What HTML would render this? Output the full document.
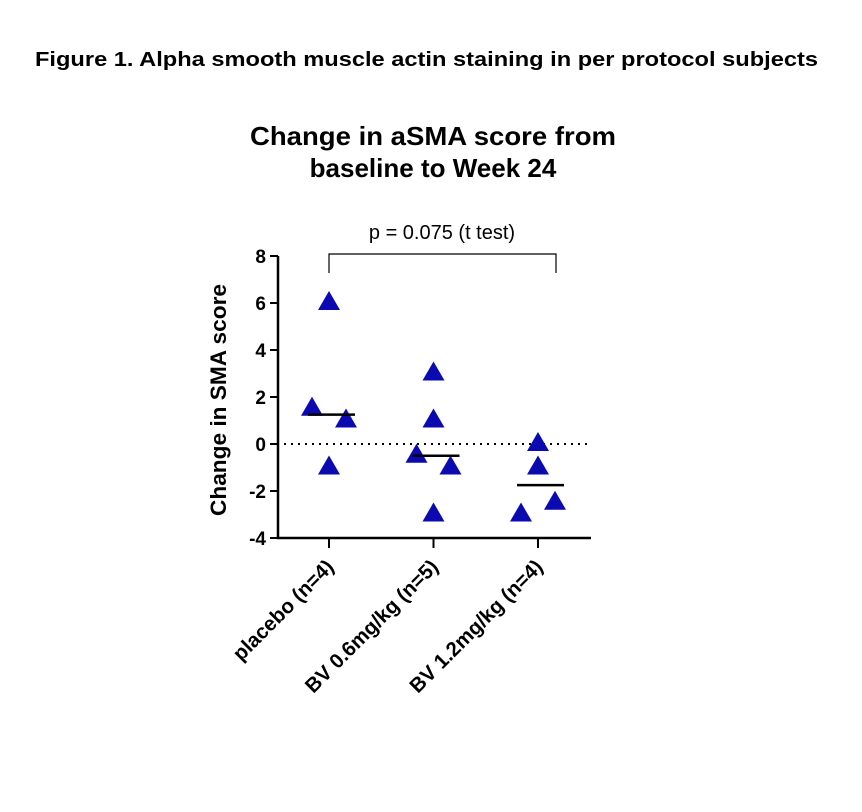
<!DOCTYPE html>
<html><head><meta charset="utf-8"><style>
body{margin:0;background:#fff;width:862px;height:807px;overflow:hidden;font-family:"Liberation Sans",sans-serif}
</style></head><body>
<svg width="862" height="807" xmlns="http://www.w3.org/2000/svg">
<text x="35" y="66" font-size="20" font-weight="bold" textLength="783" lengthAdjust="spacingAndGlyphs">Figure 1. Alpha smooth muscle actin staining in per protocol subjects</text>
<text x="433" y="145" text-anchor="middle" font-size="26" font-weight="bold" textLength="366" lengthAdjust="spacingAndGlyphs">Change in aSMA score from</text>
<text x="433" y="177" text-anchor="middle" font-size="26" font-weight="bold">baseline to Week 24</text>
<text x="226" y="400" text-anchor="middle" font-size="22" font-weight="bold" textLength="232" lengthAdjust="spacingAndGlyphs" transform="rotate(-90 226 400)">Change in SMA score</text>
<g id="plot"></g>
</svg>
<script>
const categories=["placebo (n=4)","BV 0.6mg/kg (n=5)","BV 1.2mg/kg (n=4)"];
const valuesPlacebo=[6,1.5,1,-1];
const offsetsPlacebo=[0,-1,1,0];
const valuesBV06=[3,1,-0.5,-1,-3];
const offsetsBV06=[0,0,-1,1,0];
const valuesBV12=[0,-1,-3,-2.5];
const offsetsBV12=[0,0,-1,1];
const medians=[1.25,-0.5,-1.75];
const yTicks=[8,6,4,2,0,-2,-4];
const pLabel="p = 0.075 (t test)";
const NS="http://www.w3.org/2000/svg";
const g=document.getElementById('plot');
const y0=444,ppu=23.5;
function yS(v){return y0-v*ppu;}
function xS(i){return 329+i*104.5;}
function mk(t,a){const e=document.createElementNS(NS,t);for(const k in a)e.setAttribute(k,a[k]);g.appendChild(e);return e;}
let e;
e=mk('line',{x1:278,y1:yS(8),x2:278,y2:yS(-4)+1,stroke:'#000','stroke-width':2.5});


e=mk('line',{x1:277,y1:yS(-4),x2:591,y2:yS(-4),stroke:'#000','stroke-width':2.5});


yTicks.forEach(v=>{
 e=mk('line',{x1:270,y1:yS(v),x2:278,y2:yS(v),stroke:'#000','stroke-width':2});
 
 
 e=mk('text',{x:266,y:yS(v)+7,'text-anchor':'end','font-size':19,'font-weight':'bold'});
 e.textContent=v;
 
 
});
e=mk('line',{x1:284,y1:yS(0),x2:590,y2:yS(0),stroke:'#000','stroke-width':2,'stroke-dasharray':'2 5'});


categories.forEach((c,i)=>{
 const x=xS(i);
 e=mk('line',{x1:x,y1:yS(-4),x2:x,y2:yS(-4)+10,stroke:'#000','stroke-width':2});
 
 
 e=mk('text',{x:x+6,y:yS(-4)+30,'text-anchor':'end','font-size':20.5,'font-weight':'bold',transform:`rotate(-45 ${x+6} ${yS(-4)+30})`});
 e.textContent=c;
 
 
});
const series=[[valuesPlacebo,offsetsPlacebo],[valuesBV06,offsetsBV06],[valuesBV12,offsetsBV12]];
series.forEach((s,i)=>{
 s[0].forEach((v,j)=>{
  const cx=xS(i)+s[1][j]*17,cy=yS(v);
  e=mk('polygon',{points:`${cx},${cy-12} ${cx-11},${cy+7} ${cx+11},${cy+7}`,fill:'#0a0ab0'});
  
  
 });
 e=mk('line',{x1:xS(i)-21,y1:yS(medians[i]),x2:xS(i)+26,y2:yS(medians[i]),stroke:'#000','stroke-width':2.5});
 
 
});
e=mk('path',{d:`M${xS(0)},273 V254 H556 V273`,fill:'none',stroke:'#000','stroke-width':1.2});


e=mk('text',{x:442,y:239,'text-anchor':'middle','font-size':20});
e.textContent=pLabel;


</script>
</body></html>
